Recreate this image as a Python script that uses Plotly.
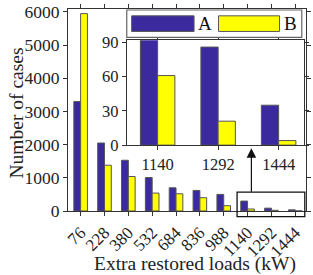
import plotly.graph_objects as go

categories = ["76", "228", "380", "532", "684", "836", "988", "1140", "1292", "1444"]
series_a = [3300, 2050, 1530, 1010, 700, 620, 500, 300, 86, 35]
series_b = [5950, 1380, 1040, 540, 520, 400, 160, 61, 21, 4]
inset_from = 7
main_yticks = [0, 1000, 2000, 3000, 4000, 5000, 6000]
inset_yticks = [0, 30, 60, 90]

COL_A = "#3a2a9e"
COL_B = "#ffff00"
EDGE = "#555555"
FONT = "Liberation Serif"
AX = "#333333"

# plot area in pixels (for positioning helpers)
W, H = 313, 275
L, R, T, B = 68, 2, 4, 64
PW, PH = W - L - R, H - T - B


def px(xp):
    return (xp - L) / PW


def py(yp):
    return (H - B - yp) / PH


fig = go.Figure()
fig.add_bar(x=categories, y=series_a, name="A", marker=dict(color=COL_A, line=dict(color=EDGE, width=1)),
            xaxis="x", yaxis="y", showlegend=False)
fig.add_bar(x=categories, y=series_b, name="B", marker=dict(color=COL_B, line=dict(color=EDGE, width=1)),
            xaxis="x", yaxis="y", showlegend=False)
fig.add_bar(x=categories[inset_from:], y=series_a[inset_from:], name="A",
            marker=dict(color=COL_A, line=dict(color=EDGE, width=1)),
            xaxis="x2", yaxis="y2", showlegend=False)
fig.add_bar(x=categories[inset_from:], y=series_b[inset_from:], name="B",
            marker=dict(color=COL_B, line=dict(color=EDGE, width=1)),
            xaxis="x2", yaxis="y2", showlegend=False)

axis_common = dict(showline=True, linecolor=AX, linewidth=1, mirror="ticks", ticks="outside",
                   tickcolor=AX, ticklen=4, showgrid=False, zeroline=False)

fig.update_layout(
    width=W, height=H,
    margin=dict(l=L, r=R, t=T, b=B, pad=0),
    paper_bgcolor="white", plot_bgcolor="white",
    barmode="group", bargap=0.43, bargroupgap=0,
    font=dict(family=FONT, color="#222222"),
    xaxis=dict(**axis_common, type="category", range=[-0.53, 9.45], tickangle=-45,
               tickfont=dict(size=17, family=FONT), domain=[0, 1], anchor="y"),
    yaxis=dict(**axis_common, range=[0, 6090], tickvals=main_yticks,
               tickfont=dict(size=17.5, family=FONT), domain=[0, 1], anchor="x"),
    xaxis2=dict(**axis_common, type="category", range=[-0.51, 2.42], tickangle=0,
                tickfont=dict(size=16.5, family=FONT), domain=[px(128), px(309)], anchor="y2"),
    yaxis2=dict(**axis_common, range=[0, 92], tickvals=inset_yticks,
                tickfont=dict(size=16.5, family=FONT), domain=[py(143.5), py(36)], anchor="x2"),
)

shapes = []
# zoom rectangle on main chart
shapes.append(dict(type="rect", xref="x", yref="paper", x0=6.56, x1=9.4, y0=py(216.7), y1=py(191.7),
                   line=dict(color="#111111", width=1.3), fillcolor="rgba(0,0,0,0)", layer="above"))
# legend box
shapes.append(dict(type="rect", xref="paper", yref="paper", x0=px(128), x1=px(306.7), y0=py(33), y1=py(5),
                   line=dict(color="#666666", width=1.2), fillcolor="white", layer="above"))
shapes.append(dict(type="rect", xref="paper", yref="paper", x0=px(133), x1=px(196.7), y0=py(27), y1=py(11),
                   line=dict(color=EDGE, width=1), fillcolor=COL_A, layer="above"))
shapes.append(dict(type="rect", xref="paper", yref="paper", x0=px(221.7), x1=px(284), y0=py(27), y1=py(11),
                   line=dict(color=EDGE, width=1), fillcolor=COL_B, layer="above"))
fig.update_layout(shapes=shapes)

annotations = [
    dict(text="A", xref="paper", yref="paper", x=px(207.5), y=py(19), showarrow=False,
         font=dict(size=19, family=FONT, color="#111111"), xanchor="center", yanchor="middle"),
    dict(text="B", xref="paper", yref="paper", x=px(294.7), y=py(19), showarrow=False,
         font=dict(size=19, family=FONT, color="#111111"), xanchor="center", yanchor="middle"),
    dict(text="Number of cases", xref="paper", yref="paper", x=px(15), y=py(111), textangle=-90,
         showarrow=False, font=dict(size=19.5, family=FONT, color="#222222"),
         xanchor="center", yanchor="middle"),
    dict(text="Extra restored loads (kW)", xref="paper", yref="paper", x=px(198), y=py(265),
         showarrow=False, font=dict(size=19.5, family=FONT, color="#222222"),
         xanchor="center", yanchor="middle"),
    dict(text="", xref="x", yref="paper", x=7.16, y=py(146.7), ax=0, ay=45, axref="pixel", ayref="pixel",
         showarrow=True, arrowhead=2, arrowsize=1.6, arrowwidth=1.2, arrowcolor="#111111"),
]
fig.update_layout(annotations=annotations)

fig.write_html("out.html")
